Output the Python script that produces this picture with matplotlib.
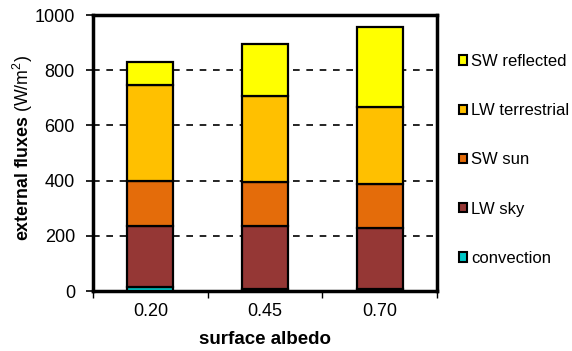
import matplotlib
matplotlib.use('Agg')
import matplotlib.pyplot as plt
from matplotlib.patches import Patch
import numpy as np

plt.rcParams['font.family'] = ['Liberation Sans', 'DejaVu Sans']
plt.rcParams['mathtext.fontset'] = 'custom'
plt.rcParams['mathtext.rm'] = 'Liberation Sans'
plt.rcParams['mathtext.it'] = 'Liberation Sans'
plt.rcParams['mathtext.bf'] = 'Liberation Sans:bold'

albedo = ['0.20', '0.45', '0.70']
layers = ['convection', 'LW sky', 'SW sun', 'LW terrestrial', 'SW reflected']
convection = [16, 8, 6]
lw_sky = [219, 226, 224]
sw_sun = [163, 160, 159]
lw_terrestrial = [350, 313, 279]
sw_reflected = [82, 188, 290]
colors = ['#00C8C8', '#953735', '#E46C0A', '#FFC000', '#FFFF00']

series = [convection, lw_sky, sw_sun, lw_terrestrial, sw_reflected]

fig = plt.figure(figsize=(5.72, 3.51), dpi=100)
ax = fig.add_axes([93/572, 1 - 291/351, 344/572, 276/351])

x = np.arange(len(albedo))
bottom = np.zeros(len(albedo))
for vals, col in zip(series, colors):
    ax.bar(x, vals, 0.4, bottom=bottom, color=col, edgecolor='black', linewidth=1.6, zorder=3)
    bottom += np.array(vals)

ax.set_xlim(-0.5, 2.5)
ax.set_ylim(0, 1000)
ax.set_yticks(range(0, 1001, 200))
for yv in range(200, 1000, 200):
    ax.axhline(yv, color='black', linestyle=(0, (4, 4)), linewidth=1.2, zorder=1)

ax.set_xticks(x)
ax.set_xticklabels(albedo, fontsize=13)
ax.set_xticks([-0.5, 0.5, 1.5, 2.5], minor=True)
ax.tick_params(axis='x', which='major', length=0, pad=9)
ax.tick_params(axis='x', which='minor', length=5, width=1, direction='out')
ax.tick_params(axis='y', labelsize=13, length=5, width=1.2, direction='out', pad=8)
for s in ax.spines.values():
    s.set_linewidth(2.5)

ax.set_xlabel('surface albedo', fontsize=13.5, fontweight='bold')
ax.xaxis.set_label_coords(0.5, -0.145)
ax.set_ylabel(r'$\mathbf{external\ fluxes}$ (W/m$^2$)', fontsize=12.8)
ax.yaxis.set_label_coords(-0.168, 0.52)

handles = [Patch(facecolor=c, edgecolor='black', linewidth=1.5) for c in colors[::-1]]
ax.legend(handles, layers[::-1], loc='center left', bbox_to_anchor=(1.045, 0.475),
          frameon=False, fontsize=12, handlelength=0.5, handleheight=0.5,
          handletextpad=0.2, labelspacing=2.05, borderaxespad=0)

plt.savefig('out.png', dpi=100)
